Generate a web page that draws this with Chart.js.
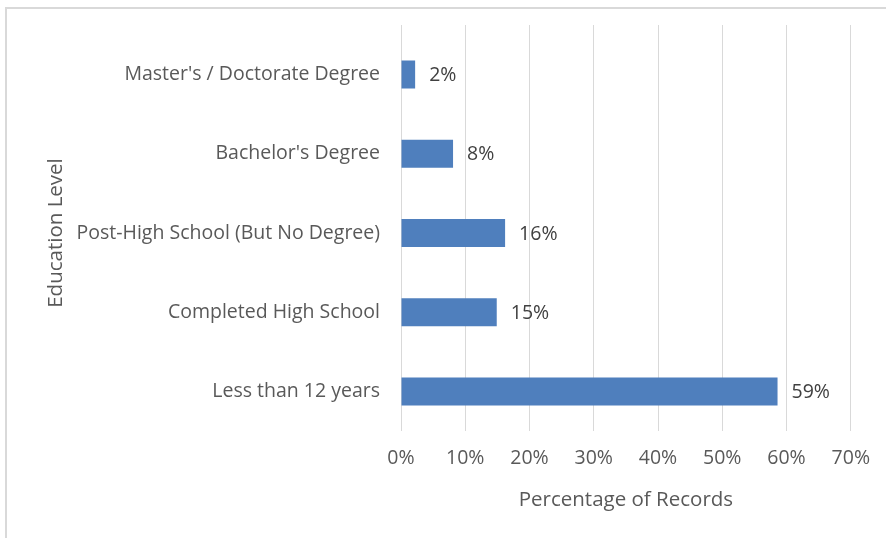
<!DOCTYPE html>
<html>
<head>
<meta charset="utf-8">
<script src="https://cdn.jsdelivr.net/npm/chart.js@4.4.0/dist/chart.umd.min.js"></script>
<style>
  html, body { margin: 0; padding: 0; background: #fff; overflow: hidden; }
  #wrap { position: relative; width: 886px; height: 538px; }
  #frame { position: absolute; left: 5px; top: 7px; width: 900px; height: 560px; border: 2px solid #d9d9d9; box-sizing: border-box; }
  canvas { position: absolute; left: 0; top: 0; }
</style>
</head>
<body>
<div id="wrap">
  <div id="frame"></div>
  <canvas id="myChart" width="886" height="538"></canvas>
</div>
<script>
// values
var categories = ["Master's / Doctorate Degree", "Bachelor's Degree", "Post-High School (But No Degree)", "Completed High School", "Less than 12 years"];
var percents = [2.2, 8.1, 16.2, 14.9, 58.6];
var pctLabels = ['2%', '8%', '16%', '15%', '59%'];
var xTicks = [0, 10, 20, 30, 40, 50, 60, 70];

var FONT = "'Open Sans', sans-serif";

// small plugin: gridline stubs above the plot and the value at the end of each bar
var barLabels = {
  id: 'barLabels',
  beforeDatasetsDraw: function (chart) {
    // excel draws the vertical gridlines a bit above the first category
    var c = chart.ctx, x = chart.scales.x, top = chart.chartArea.top;
    var items = x._gridLineItems || [];
    c.save();
    c.strokeStyle = '#d9d9d9';
    c.lineWidth = 1;
    xTicks.forEach(function (v, i) {
      var px = items[i] ? items[i].x1 : Math.round(x.getPixelForValue(v)) + 0.5;
      c.beginPath();
      c.moveTo(px, top - 10);
      c.lineTo(px, top + 1);
      c.stroke();
    });
    c.restore();
  },
  afterDatasetsDraw: function (chart) {
    var c = chart.ctx;
    var meta = chart.getDatasetMeta(0);
    c.save();
    c.font = '19.5px ' + FONT;
    c.fillStyle = '#404040';
    c.textAlign = 'left';
    c.textBaseline = 'middle';
    meta.data.forEach(function (bar, i) {
      c.fillText(pctLabels[i], bar.x + 14, bar.y + 1);
    });
    c.restore();
  }
};

var ctx = document.getElementById('myChart').getContext('2d');

var myChart = new Chart(ctx, {
  type: 'bar',
  data: {
    labels: categories,
    datasets: [{
      data: percents,
      backgroundColor: '#4f7fbd',
      borderWidth: 0,
      categoryPercentage: 1,
      barPercentage: 0.353
    }]
  },
  options: {
    indexAxis: 'y',
    responsive: false,
    animation: false,
    layout: { padding: { top: 35, right: 35, left: 0, bottom: 0 } },
    plugins: { legend: { display: false }, tooltip: { enabled: false } },
    scales: {
      x: {
        min: 0,
        max: 70,
        afterBuildTicks: function (s) { s.ticks = xTicks.map(function (v) { return { value: v }; }); },
        afterFit: function (s) { s.height = 107; },
        grid: { color: '#d9d9d9', drawTicks: false, lineWidth: 1 },
        border: { display: false },
        ticks: {
          padding: 16,
          color: '#595959',
          font: { family: FONT, size: 19.5 },
          callback: function (v) { return v + '%'; }
        },
        title: {
          display: true,
          text: 'Percentage of Records',
          color: '#595959',
          font: { family: FONT, size: 20.5 },
          padding: { top: 10, bottom: 26 }
        }
      },
      y: {
        afterFit: function (s) { s.width = 401; },
        grid: { display: false },
        border: { display: false },
        ticks: {
          padding: 13,
          color: '#595959',
          font: { family: FONT, size: 19.5 }
        },
        title: {
          display: true,
          text: 'Education Level',
          color: '#595959',
          font: { family: FONT, size: 20.5 },
          padding: { top: 44, bottom: 0 }
        }
      }
    }
  },
  plugins: [barLabels]
});
</script>
</body>
</html>
